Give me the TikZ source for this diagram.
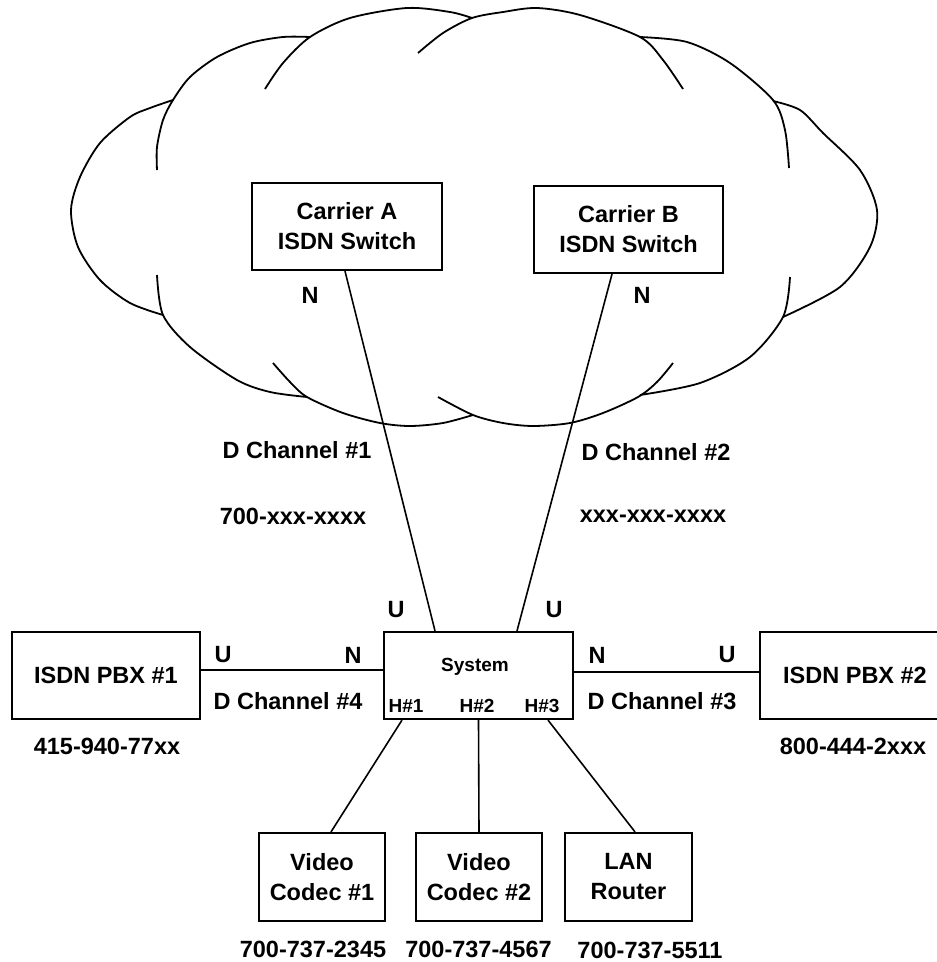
\documentclass[tikz,border=0pt]{standalone}
\usepackage{fontspec}
\setmainfont{Liberation Sans}
\usetikzlibrary{positioning}
\newcommand\lblfont{\fontsize{23.5}{30}\selectfont\bfseries}
\newcommand\portfont{\fontsize{19}{22}\selectfont\bfseries}
\tikzset{
    unitbox/.style={draw, line width=2.2pt, rectangle, inner sep=0pt, align=center, font=\lblfont},
    bigbox/.style={unitbox, minimum width=189pt, minimum height=87pt},
    smallbox/.style={unitbox, minimum width=126pt, minimum height=88pt},
    lbl/.style={inner sep=0pt, font=\lblfont},
    portlbl/.style={inner sep=0pt, font=\portfont},
    wire/.style={line width=1.6pt},
    cloudline/.style={line width=1.8pt},
}

\begin{document}
\begin{tikzpicture}[x=1pt,y=-1pt]
    \useasboundingbox (0,0) rectangle (937,962);
    \clip (0,0) rectangle (937,962);
    % the network cloud
    \draw[cloudline] plot[smooth] coordinates {(173,100) (150,108) (130,117) (100,143) (80,177) (71,210) (78,247) (100,280) (130,303) (163,315)};
    \draw[cloudline] plot[smooth] coordinates {(310,37) (283,37) (250,43) (217,57) (190,77) (173,100) (163,120) (157,147) (157,170)};
    \draw[cloudline] plot[smooth] coordinates {(157,275) (163,315) (190,347) (237,380) (270,392) (307,397)};
    \draw[cloudline] plot[smooth] coordinates {(265,89) (283,63) (310,37) (350,18) (407,8) (450,12) (472,18)};
    \draw[cloudline] plot[smooth] coordinates {(418,53) (443,33) (472,18) (503,12) (537,8) (580,15) (640,37) (663,60) (683,89)};
    \draw[cloudline] plot[smooth] coordinates {(640,37) (687,42) (730,63) (773,100) (785,130) (789,168)};
    \draw[cloudline] plot[smooth] coordinates {(773,101) (800,110) (823,133) (860,170) (877,210) (870,247) (840,287) (783,317)};
    \draw[cloudline] plot[smooth] coordinates {(790,277) (783,317) (750,357) (700,383) (640,395)};
    \draw[cloudline] plot[smooth] coordinates {(273,363) (290,382) (307,397) (343,413) (380,423) (410,426) (443,423) (473,415)};
    \draw[cloudline] plot[smooth] coordinates {(438,397) (473,415) (503,423) (533,426) (570,423) (603,413) (638,397) (657,382) (673,363)};

    \node[bigbox, minimum width=190pt] (ca) at (347,226.5) {Carrier A\\ISDN Switch};
    \node[bigbox] (cb) at (628.5,229.5) {Carrier B\\ISDN Switch};
    \node[bigbox] (sys) at (478.5,675.5) {};
    \node[bigbox, minimum width=188pt] (pbx1) at (106,675.5) {ISDN PBX \#1};
    \node[bigbox, minimum width=190pt] (pbx2) at (855,675.5) {ISDN PBX \#2};
    \node[smallbox] (vc1) at (322,877) {Video\\Codec \#1};
    \node[smallbox] (vc2) at (479,877) {Video\\Codec \#2};
    \node[smallbox, minimum width=127pt] (lan) at (628.5,877) {LAN\\Router};

    \node[portlbl] (systxt) at (475,667) {System};
    \node[portlbl] (h1) at (406,706) {H\#1};
    \node[portlbl] (h2) at (477,706) {H\#2};
    \node[portlbl] (h3) at (542,706) {H\#3};

    \node[lbl] (na) at (310,295) {N};
    \node[lbl] (nb) at (642,295) {N};
    \node[lbl] (ua) at (396,610) {U};
    \node[lbl] (ub) at (554,610) {U};
    \node[lbl] (u4) at (223,655) {U};
    \node[lbl] (n4) at (353,655) {N};
    \node[lbl] (n3) at (597,655) {N};
    \node[lbl] (u3) at (727,655) {U};
    \node[lbl] (d1) at (297,450) {D Channel \#1};
    \node[lbl] (d2) at (656,452) {D Channel \#2};
    \node[lbl] (num1) at (293,516) {700-xxx-xxxx};
    \node[lbl] (num2) at (653,516) {xxx-xxx-xxxx};
    \node[lbl] (d4) at (288,701) {D Channel \#4};
    \node[lbl] (d3) at (662,701) {D Channel \#3};
    \node[lbl] (tel1) at (107,746) {415-940-77xx};
    \node[lbl] (tel2) at (853,746) {800-444-2xxx};
    \node[lbl] (telvc1) at (313,949) {700-737-2345};
    \node[lbl] (telvc2) at (478.5,949) {700-737-4567};
    \node[lbl] (tellan) at (650,950) {700-737-5511};

    \draw[wire] ([xshift=-2pt]ca.south) -- ([xshift=-43.5pt]sys.north);
    \draw[wire] ([xshift=-16.5pt]cb.south) -- ([xshift=38.5pt]sys.north);
    \draw[wire] ([yshift=5.5pt]pbx1.east) -- ([yshift=5.5pt]sys.west);
    \draw[wire] ([yshift=3.5pt]sys.east) -- ([yshift=3.5pt]pbx2.west);
    \draw[wire] ([xshift=-76.5pt]sys.south) -- ([xshift=9pt]vc1.north);
    \draw[wire] (sys.south) -- (vc2.north);
    \draw[wire] ([xshift=69.5pt]sys.south) -- ([xshift=6.5pt]lan.north);
\end{tikzpicture}
\end{document}
